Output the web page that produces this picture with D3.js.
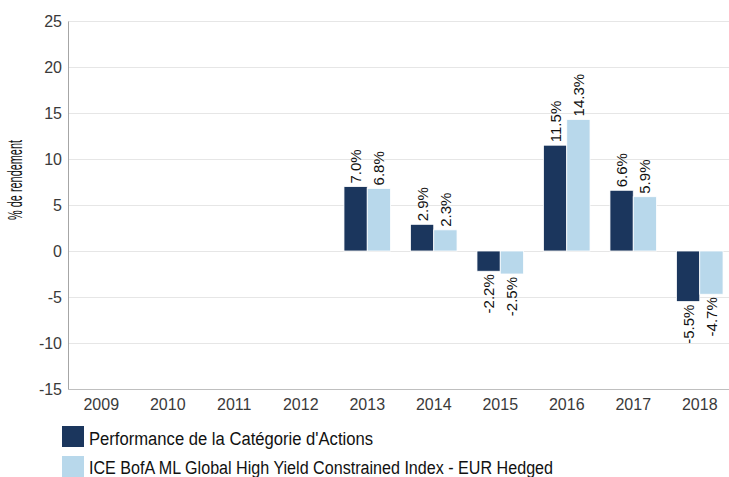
<!DOCTYPE html>
<html><head><meta charset="utf-8">
<script src="https://cdn.jsdelivr.net/npm/d3@7"></script>
<style>body{margin:0;background:#fff}svg{display:block}</style>
</head><body>
<svg id="c" width="729" height="477"></svg>
<script>
const years = ["2009","2010","2011","2012","2013","2014","2015","2016","2017","2018"];
const categoryPerf = [null,null,null,null,7.0,2.9,-2.2,11.5,6.6,-5.5];
const indexPerf = [null,null,null,null,6.8,2.3,-2.5,14.3,5.9,-4.7];
const seriesNames = ["Performance de la Catégorie d'Actions","ICE BofA ML Global High Yield Constrained Index - EUR Hedged"];
const seriesColors = ["#1b365d","#b8d8eb"];
const yTicks = [-15,-10,-5,0,5,10,15,20,25];
const yLabel = "% de rendement";

const svg = d3.select("#c");
const x0 = d3.scaleBand().domain(years).range([68,733]).paddingInner(0.3).paddingOuter(0.15);
const x1 = d3.scaleBand().domain([0,1]).range([0,x0.bandwidth()]);
const y = d3.scaleLinear().domain([-15,25]).range([389,21]);

// grid
svg.append("g").selectAll("line").data(yTicks.filter(t=>t!==-15)).join("line")
  .attr("x1",68).attr("x2",729).attr("y1",d=>y(d)).attr("y2",d=>y(d))
  .attr("stroke","#e6e6e6").attr("stroke-width",1).attr("shape-rendering","crispEdges");

// y axis
const ya = svg.append("g").attr("transform","translate(68,0)")
  .call(d3.axisLeft(y).tickValues(yTicks).tickFormat(d=>String(d)).tickSize(0).tickPadding(6));
ya.select(".domain").attr("stroke","#a6a6a6");
ya.selectAll("text").attr("font-family","Liberation Sans, Arial, sans-serif").attr("font-size",16).attr("fill","#3a3a3a");

// x axis
const xa = svg.append("g").attr("transform","translate(0,389)")
  .call(d3.axisBottom(x0).tickSize(0).tickPadding(10));
xa.select(".domain").attr("stroke","#bfbfbf").attr("d","M68,0.5H729");
xa.selectAll("text").attr("font-family","Liberation Sans, Arial, sans-serif").attr("font-size",16).attr("fill","#3a3a3a");

// bars
const series = [categoryPerf, indexPerf];
series.forEach((vals,si)=>{
  const g = svg.append("g");
  const data = years.map((yr,i)=>({yr,v:vals[i]})).filter(d=>d.v!==null);
  g.selectAll("rect").data(data).join("rect")
    .attr("x",d=>x0(d.yr)+x1(si))
    .attr("width",x1.bandwidth())
    .attr("y",d=>y(Math.max(0,d.v)))
    .attr("height",d=>Math.abs(y(d.v)-y(0)))
    .attr("fill",seriesColors[si])
    .attr("stroke","#fff").attr("stroke-width",0.8);
  g.selectAll("text").data(data).join("text")
    .attr("transform",d=>{
      const cx = x0(d.yr)+x1(si)+x1.bandwidth()/2;
      const yy = d.v>=0 ? y(d.v)-3 : y(d.v)+3;
      return `translate(${cx},${yy}) rotate(-90)`;
    })
    .attr("text-anchor",d=>d.v>=0?"start":"end")
    .attr("dy","0.36em")
    .attr("font-family","Liberation Sans, Arial, sans-serif")
    .attr("font-size",15).attr("fill","#111")
    .text(d=>d.v.toFixed(1)+"%");
});

// y label
svg.append("text").attr("transform","translate(22,180) rotate(-90)")
  .attr("text-anchor","middle")
  .attr("font-family","Liberation Sans Narrow, Arial Narrow, sans-serif")
  .attr("font-size",21).attr("fill","#111")
  .attr("textLength",80).attr("lengthAdjust","spacingAndGlyphs")
  .text(yLabel);

// legend
const legLens = [284,464];
seriesNames.forEach((n,i)=>{
  const yy = 426 + i*30;
  svg.append("rect").attr("x",62).attr("y",yy).attr("width",22).attr("height",21).attr("fill",seriesColors[i]);
  svg.append("text").attr("x",89).attr("y",yy+19 - i*1.5)
    .attr("font-family","Liberation Sans Narrow, Arial Narrow, sans-serif")
    .attr("font-size",18).attr("fill","#111")
    .attr("textLength",legLens[i]).attr("lengthAdjust","spacingAndGlyphs")
    .text(n);
});
</script>
</body></html>
